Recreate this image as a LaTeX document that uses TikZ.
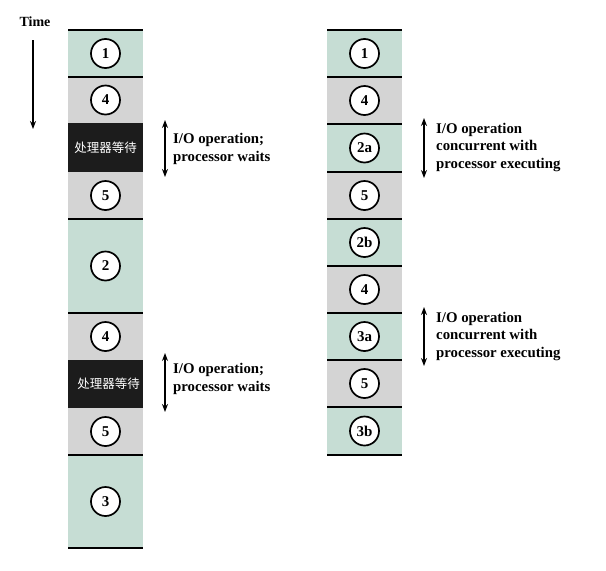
\documentclass[tikz,border=0pt]{standalone}
\usepackage{fontspec}
\setmainfont{Liberation Serif}
\newfontfamily\cjk{Noto Sans CJK SC}
\usetikzlibrary{arrows.meta}
\definecolor{cgreen}{RGB}{198,221,212}
\definecolor{cgray}{RGB}{212,212,212}
\definecolor{cblack}{RGB}{28,28,28}
\begin{document}
\begin{tikzpicture}[x=1pt,y=-1pt,
  seg/.style={draw=none,minimum width=75pt,inner sep=0pt,outer sep=0pt},
  gseg/.style={seg,fill=cgreen},
  yseg/.style={seg,fill=cgray},
  bseg/.style={seg,fill=cblack,text=white,font=\cjk\fontsize{12.5}{14}\selectfont},
  num/.style={circle,draw,fill=white,line width=1.7pt,minimum size=29pt,inner sep=0pt,font=\bfseries\fontsize{15}{17}\selectfont},
  sep/.style={line width=1.5pt},
  lbl/.style={anchor=west,align=left,inner sep=0pt,font=\bfseries\fontsize{14.8}{17.5}\selectfont},
  arr/.style={line width=1.6pt,{Stealth[length=8pt,width=6pt]}-{Stealth[length=8pt,width=6pt]}},
]
\useasboundingbox (0,0) rectangle (606,571);
% left column
\node[gseg,minimum height=47pt] (l1) at (105.5,53.5) {};
\node[yseg,minimum height=46pt] (l2) at (105.5,100) {};
\node[bseg,minimum height=49pt] (l3) at (105.5,147.5) {处理器等待};
\node[yseg,minimum height=47pt] (l4) at (105.5,195.5) {};
\node[gseg,minimum height=94pt] (l5) at (105.5,266) {};
\node[yseg,minimum height=47pt] (l6) at (105.5,336.5) {};
\node[bseg,minimum height=48pt] (l7) at (105.5,384) {\hspace*{6pt}处理器等待};
\node[yseg,minimum height=47pt] (l8) at (105.5,431.5) {};
\node[gseg,minimum height=93pt] (l9) at (105.5,501.5) {};
\foreach \n in {l1,l2,l5,l6,l9}{\draw[sep] (\n.north west) -- (\n.north east);}
\draw[sep] (l4.south west) -- (l4.south east);
\draw[sep] (l8.south west) -- (l8.south east);
\draw[sep] (l9.south west) -- (l9.south east);
\node[num] (n1) at (l1) {1};
\node[num] (n2) at (l2) {4};
\node[num] (n4) at (l4) {5};
\node[num] (n5) at (l5) {2};
\node[num] (n6) at (l6) {4};
\node[num] (n8) at (l8) {5};
\node[num] (n9) at (l9) {3};
% right column
\node[gseg,minimum height=47pt] (r1) at (364.5,53.5) {};
\node[yseg,minimum height=47pt] (r2) at (364.5,100.5) {};
\node[gseg,minimum height=48pt] (r3) at (364.5,148) {};
\node[yseg,minimum height=47pt] (r4) at (364.5,195.5) {};
\node[gseg,minimum height=47pt] (r5) at (364.5,242.5) {};
\node[yseg,minimum height=47pt] (r6) at (364.5,289.5) {};
\node[gseg,minimum height=47pt] (r7) at (364.5,336.5) {};
\node[yseg,minimum height=47pt] (r8) at (364.5,383.5) {};
\node[gseg,minimum height=48pt] (r9) at (364.5,431) {};
\foreach \n in {r1,r2,r3,r4,r5,r6,r7,r8,r9}{\draw[sep] (\n.north west) -- (\n.north east);}
\draw[sep] (r9.south west) -- (r9.south east);
\node[num] (m1) at (r1) {1};
\node[num] (m2) at (r2) {4};
\node[num] (m3) at (r3) {2a};
\node[num] (m4) at (r4) {5};
\node[num] (m5) at (r5) {2b};
\node[num] (m6) at (r6) {4};
\node[num] (m7) at (r7) {3a};
\node[num] (m8) at (r8) {5};
\node[num] (m9) at (r9) {3b};
% time
\node[font=\bfseries\fontsize{14}{16}\selectfont,inner sep=0pt] (time) at (35,22) {Time};
\coordinate (t0) at (33,40);
\coordinate (t1) at (33,129);
\draw[line width=1.5pt,-{Stealth[length=8pt,width=6pt]}] (t0) -- (t1);
% left arrows and labels
\coordinate (a1s) at (165,120); \coordinate (a1e) at (165,177);
\draw[arr] (a1s) -- (a1e);
\node[lbl] (la1) at (173,149) {I/O operation;\\processor waits};
\coordinate (a2s) at (165,353); \coordinate (a2e) at (165,412);
\draw[arr] (a2s) -- (a2e);
\node[lbl] (la2) at (173,379) {I/O operation;\\processor waits};
% right arrows and labels
\coordinate (b1s) at (424,118); \coordinate (b1e) at (424,178);
\draw[arr] (b1s) -- (b1e);
\node[lbl] (lb1) at (436,147) {I/O operation\\concurrent with\\processor executing};
\coordinate (b2s) at (424,307); \coordinate (b2e) at (424,366);
\draw[arr] (b2s) -- (b2e);
\node[lbl] (lb2) at (436,336) {I/O operation\\concurrent with\\processor executing};
\end{tikzpicture}
\end{document}
